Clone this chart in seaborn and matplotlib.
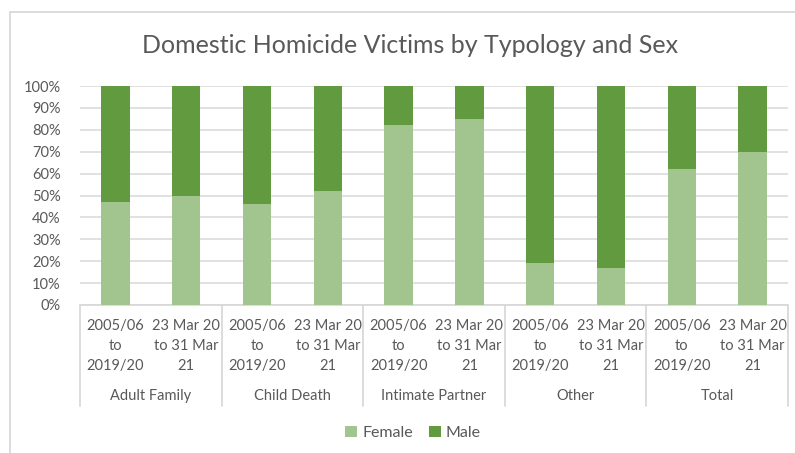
import matplotlib
matplotlib.use("Agg")
import matplotlib.pyplot as plt
from matplotlib.patches import Rectangle, Patch
from matplotlib.lines import Line2D
import matplotlib.transforms as mtransforms
import seaborn as sns
import pandas as pd

# ---- data ----
categories = ["Adult Family", "Child Death", "Intimate Partner", "Other", "Total"]
periods = ["2005/06\nto\n2019/20", "23 Mar 20\nto 31 Mar\n21"]
female = [47, 50, 46, 52, 82, 85, 19, 17, 62, 70]
male = [53, 50, 54, 48, 18, 15, 81, 83, 38, 30]
y_ticks = [0, 10, 20, 30, 40, 50, 60, 70, 80, 90, 100]
title = "Domestic Homicide Victims by Typology and Sex"

FEMALE_C = "#A2C48F"
MALE_C = "#629A3F"
TEXT_C = "#595959"
GRID_C = "#D9D9D9"

rows = []
for gi, cat in enumerate(categories):
    for pi, per in enumerate(periods):
        k = gi * len(periods) + pi
        rows.append({"slot": f"{cat}|{pi}", "category": cat, "period": per,
                     "Female": female[k], "Male": male[k],
                     "Total": female[k] + male[k]})
df = pd.DataFrame(rows)
order = list(df["slot"])

sns.set_theme(style="white")
plt.rcParams["font.family"] = ["Lato", "DejaVu Sans"]

W, H = 795, 453
fig = plt.figure(figsize=(W / 100, H / 100), dpi=100)
ax = fig.add_axes([80 / W, 1 - 305 / H, (788 - 80) / W, (305 - 86) / H])
AX_H = 305 - 86  # axes height in px

# stacked bars: full-height male bar, female drawn on top from zero
sns.barplot(data=df, x="slot", y="Total", order=order, color=MALE_C,
            width=0.4, saturation=1, ax=ax, zorder=3, linewidth=0)
sns.barplot(data=df, x="slot", y="Female", order=order, color=FEMALE_C,
            width=0.4, saturation=1, ax=ax, zorder=4, linewidth=0)

ax.set_xlim(-0.5, len(order) - 0.5)
ax.set_ylim(0, 100)
ax.set_yticks(y_ticks)
ax.set_yticklabels([f"{v}%" for v in y_ticks])
ax.yaxis.grid(True, color=GRID_C, linewidth=1.1, zorder=0)
ax.set_axisbelow(True)
for s in ax.spines.values():
    s.set_visible(False)
ax.set_xlabel("")
ax.set_ylabel("")
ax.tick_params(axis="y", length=0, pad=14, labelsize=10.5, labelcolor=TEXT_C)
ax.tick_params(axis="x", length=0, labelbottom=False)
ax.set_xticks(range(len(order)))

# axis baseline
ax.axhline(0, color=GRID_C, linewidth=1.3, zorder=2, clip_on=False)

trans = mtransforms.blended_transform_factory(ax.transData, ax.transAxes)

# period labels, each line centred under its bar
line_y = [326, 346, 366]
for i, per in enumerate(df["period"]):
    for li, line in enumerate(per.split("\n")):
        ax.text(i, -(line_y[li] - 305) / AX_H, line, transform=trans,
                ha="center", va="center", fontsize=10.5, color=TEXT_C)

# group dividers & group labels
div_bottom = -(406 - 305) / AX_H
n_per = len(periods)
for gi in range(len(categories) + 1):
    xd = gi * n_per - 0.5
    ax.add_line(Line2D([xd, xd], [0, div_bottom], transform=trans,
                       color=GRID_C, linewidth=1.3, clip_on=False))
for gi, cat in enumerate(categories):
    xc = gi * n_per + (n_per - 1) / 2
    ax.text(xc, -(396 - 305) / AX_H, cat, transform=trans,
            ha="center", va="center", fontsize=10.5, color=TEXT_C)

# title
fig.text(410 / W, 1 - 53 / H, title, ha="center", va="baseline",
         fontsize=18, color=TEXT_C)

# legend
handles = [Patch(facecolor=FEMALE_C, edgecolor="none", label="Female"),
           Patch(facecolor=MALE_C, edgecolor="none", label="Male")]
leg = fig.legend(handles=handles, loc="center", bbox_to_anchor=(413 / W, 1 - 433 / H),
                 ncol=2, frameon=False, fontsize=11.5, handlelength=0.75,
                 handleheight=0.75, handletextpad=0.3, columnspacing=1.0)
for t in leg.get_texts():
    t.set_color(TEXT_C)

# chart-area border (cropped on right/bottom in the reference)
fig.patches.append(Rectangle((10 / W, -0.2), 2.0, (1 - 12 / H) + 0.2,
                             transform=fig.transFigure, fill=False,
                             edgecolor=GRID_C, linewidth=1.3))

fig.savefig("out.png", dpi=100)
